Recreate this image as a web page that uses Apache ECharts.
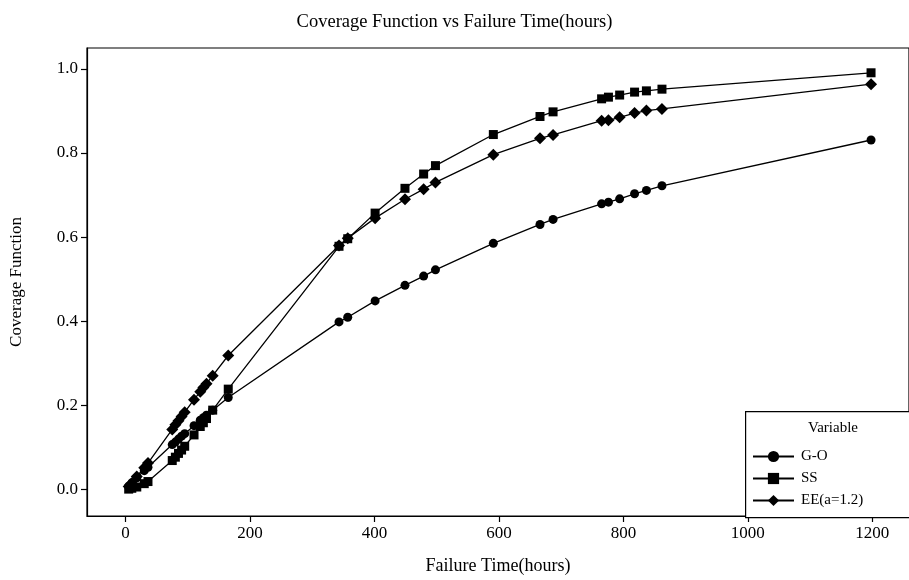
<!DOCTYPE html>
<html>
<head>
<meta charset="utf-8">
<script src="https://cdn.jsdelivr.net/npm/echarts@6/dist/echarts.min.js"></script>
<style>html,body{margin:0;padding:0;background:#fff;}#c{width:909px;height:580px;}</style>
</head>
<body>
<div id="c"></div>
<script>
const failureTimes = [5, 10, 18, 30, 36, 75, 80, 85, 90, 95, 110, 120, 125, 130, 140, 165, 343, 357, 401, 449, 479, 498, 591, 666, 687, 765, 776, 794, 818, 837, 862, 1198];
const goValues = [0.007, 0.015, 0.027, 0.044, 0.052, 0.106, 0.112, 0.119, 0.126, 0.132, 0.151, 0.164, 0.170, 0.176, 0.188, 0.218, 0.398, 0.409, 0.448, 0.485, 0.507, 0.522, 0.585, 0.630, 0.642, 0.679, 0.683, 0.691, 0.703, 0.711, 0.722, 0.831];
const ssValues = [0.000, 0.002, 0.005, 0.013, 0.018, 0.068, 0.076, 0.085, 0.093, 0.102, 0.129, 0.149, 0.158, 0.168, 0.188, 0.238, 0.578, 0.596, 0.657, 0.716, 0.750, 0.770, 0.844, 0.887, 0.898, 0.929, 0.933, 0.938, 0.945, 0.948, 0.952, 0.991];
const eeValues = [0.006, 0.014, 0.030, 0.051, 0.062, 0.142, 0.153, 0.163, 0.173, 0.183, 0.213, 0.232, 0.242, 0.251, 0.270, 0.318, 0.580, 0.597, 0.645, 0.690, 0.714, 0.730, 0.796, 0.835, 0.843, 0.877, 0.878, 0.885, 0.895, 0.901, 0.905, 0.964];
const seriesNames = ['G-O', 'SS', 'EE(a=1.2)'];
const xTicks = [0, 200, 400, 600, 800, 1000, 1200];
const yTicks = [0, 0.2, 0.4, 0.6, 0.8, 1.0];

const font = 'Liberation Serif';
const chart = echarts.init(document.getElementById('c'), null, {renderer: 'canvas'});

function mk(name, vals, symbol, size) {
  return {
    name: name,
    type: 'line',
    data: failureTimes.map((t, i) => [t, vals[i]]),
    symbol: symbol,
    symbolSize: size,
    showSymbol: true,
    lineStyle: {color: '#000', width: 1.3},
    itemStyle: {color: '#000', borderWidth: 0},
    emphasis: {disabled: true},
    animation: false,
    z: 3
  };
}

chart.setOption({
  backgroundColor: '#fff',
  animation: false,
  title: {
    text: 'Coverage Function vs Failure Time(hours)',
    left: 'center', top: 8,
    textStyle: {fontFamily: font, fontSize: 18.5, fontWeight: 'normal', color: '#000'}
  },
  grid: {left: 86, top: 48, right: 0, bottom: 63, show: true, borderColor: '#000', borderWidth: 1.2, backgroundColor: 'transparent'},
  xAxis: {
    type: 'value', min: -62, max: 1259,
    name: 'Failure Time(hours)', nameLocation: 'middle', nameGap: 41,
    nameTextStyle: {fontFamily: font, fontSize: 18, color: '#000'},
    axisLine: {show: true, onZero: false, lineStyle: {color: '#000', width: 1.2}},
    axisTick: {show: true, inside: false, length: 6, lineStyle: {color: '#000', width: 1.2}, customValues: xTicks},
    axisLabel: {show: true, fontFamily: font, fontSize: 17, color: '#000', margin: 9, customValues: xTicks, formatter: v => String(v)},
    splitLine: {show: false}
  },
  yAxis: {
    type: 'value', min: -0.064, max: 1.05,
    name: 'Coverage Function', nameLocation: 'middle', nameGap: 62, nameRotate: 90,
    nameTextStyle: {fontFamily: font, fontSize: 17, color: '#000'},
    axisLine: {show: true, onZero: false, lineStyle: {color: '#000', width: 1.2}},
    axisTick: {show: true, inside: false, length: 6, lineStyle: {color: '#000', width: 1.2}, customValues: yTicks},
    axisLabel: {show: true, fontFamily: font, fontSize: 17, color: '#000', margin: 9, customValues: yTicks, formatter: v => v.toFixed(1)},
    splitLine: {show: false}
  },
  legend: {
    orient: 'vertical', left: 747, top: 444, z: 20,
    itemWidth: 41, itemHeight: 14, itemGap: 7,
    data: seriesNames,
    textStyle: {fontFamily: font, fontSize: 15, color: '#000', padding: [0, 0, 0, 2]},
    selectedMode: false
  },
  graphic: [
    {type: 'rect', left: 745, top: 411, shape: {width: 175, height: 106}, style: {fill: '#fff', stroke: '#000', lineWidth: 1.2}, z: 10},
    {type: 'text', left: 808, top: 421, style: {text: 'Variable', font: '15px "Liberation Serif"', fill: '#000'}, z: 11}
  ],
  series: [
    mk(seriesNames[0], goValues, 'circle', 9),
    mk(seriesNames[1], ssValues, 'rect', 9),
    mk(seriesNames[2], eeValues, 'diamond', 12)
  ]
});
</script>
</body>
</html>
